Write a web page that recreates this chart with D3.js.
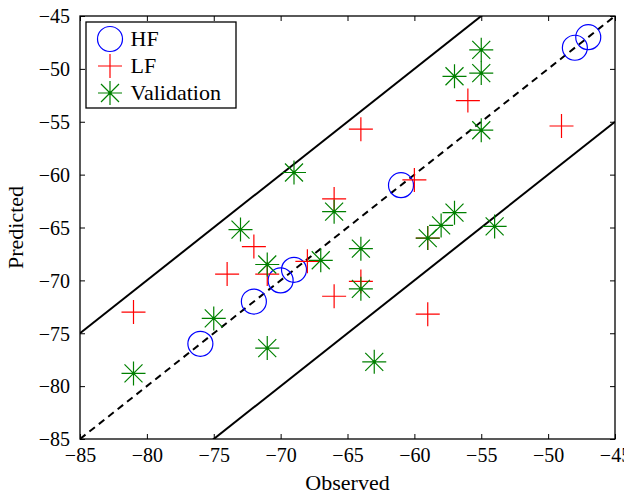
<!DOCTYPE html>
<html>
<head>
<meta charset="utf-8">
<script src="https://cdn.jsdelivr.net/npm/d3@7"></script>
<style>
  body { margin: 0; background: #fff; }
  svg, svg text { font-family: "Liberation Serif", "Times New Roman", serif; }
  svg { display: block; }
</style>
</head>
<body>
<div id="chart"></div>
<script>
// HF points (observed, predicted)
const hfObserved  = [-76, -72, -70, -69, -61, -48, -47];
const hfPredicted = [-76, -72, -70, -69, -61, -48, -47];

// LF points
const lfObserved  = [-81, -74, -72, -71, -68, -66, -66, -64, -64, -60, -56, -49, -59, -59];
const lfPredicted = [-73, -69.4, -66.8, -69.4, -68.2, -62.3, -71.5, -70.1, -55.7, -60.5, -53, -55.4, -73.2, -66];

// Validation points
const valObserved  = [-81, -75, -71, -73, -71, -69, -67, -66, -64, -64, -63, -59, -58, -57, -54, -55, -57, -55, -55];
const valPredicted = [-78.8, -73.6, -76.4, -65.2, -68.5, -59.8, -68.1, -63.5, -67, -70.8, -77.7, -66, -64.8, -63.6, -64.9, -55.8, -50.7, -50.4, -48.2];

const axisTicks = [-85, -80, -75, -70, -65, -60, -55, -50, -45];
const band = 10;

const width = 624, height = 493;
const margin = { top: 16, right: 9, bottom: 54, left: 80 };

const svg = d3.select('#chart').append('svg')
    .attr('width', width)
    .attr('height', height);

const x = d3.scaleLinear().domain([-85, -45]).range([margin.left, width - margin.right]);
const y = d3.scaleLinear().domain([-85, -45]).range([height - margin.bottom, margin.top]);

svg.append('clipPath').attr('id', 'clip')
    .append('rect')
    .attr('x', margin.left).attr('y', margin.top)
    .attr('width', width - margin.left - margin.right)
    .attr('height', height - margin.top - margin.bottom);

const plot = svg.append('g').attr('clip-path', 'url(#clip)');

// reference lines y = x, y = x +/- 10
const dom = x.domain();
const refLines = [
    { off: band, dash: null },
    { off: -band, dash: null },
    { off: 0, dash: '7,5' }
];
refLines.forEach(l => {
    plot.append('line')
        .attr('x1', x(dom[0])).attr('y1', y(dom[0] + l.off))
        .attr('x2', x(dom[1])).attr('y2', y(dom[1] + l.off))
        .attr('stroke', 'black')
        .attr('stroke-width', 2)
        .attr('stroke-dasharray', l.dash);
});

function drawPlus(g, cx, cy, s, color) {
    g.append('path')
        .attr('d', `M${cx - s},${cy}H${cx + s}M${cx},${cy - s}V${cy + s}`)
        .attr('stroke', color).attr('stroke-width', 1.2).attr('fill', 'none');
}

function drawStar(g, cx, cy, s, color) {
    const d = s * 0.75;
    g.append('path')
        .attr('d', `M${cx - s},${cy}H${cx + s}M${cx},${cy - s}V${cy + s}` +
            `M${cx - d},${cy - d}L${cx + d},${cy + d}M${cx - d},${cy + d}L${cx + d},${cy - d}`)
        .attr('stroke', color).attr('stroke-width', 1.2).attr('fill', 'none');
    g.append('circle').attr('cx', cx).attr('cy', cy).attr('r', 1.6).attr('fill', color);
}

const hf = d3.zip(hfObserved, hfPredicted);
const lf = d3.zip(lfObserved, lfPredicted);
const val = d3.zip(valObserved, valPredicted);

plot.selectAll('circle.hf')
    .data(hf)
    .enter()
    .append('circle')
    .attr('class', 'hf')
    .attr('cx', d => x(d[0]))
    .attr('cy', d => y(d[1]))
    .attr('r', 12.5)
    .attr('fill', 'none')
    .attr('stroke', 'blue')
    .attr('stroke-width', 1.2);

const lfG = plot.append('g');
lf.forEach(d => drawPlus(lfG, x(d[0]), y(d[1]), 12, 'red'));

const valG = plot.append('g');
val.forEach(d => drawStar(valG, x(d[0]), y(d[1]), 12, 'green'));

// axes with inward ticks on all four sides
const xAxis = svg.append('g')
    .attr('transform', `translate(0,${height - margin.bottom})`)
    .call(d3.axisBottom(x).tickValues(axisTicks).tickSizeInner(-5).tickSizeOuter(0));
xAxis.selectAll('text')
    .attr('y', 22.5).attr('dy', 0)
    .style('font-size', '20px').style('font-family', '"Liberation Serif", serif').attr('fill', 'black');

const yAxis = svg.append('g')
    .attr('transform', `translate(${margin.left},0)`)
    .call(d3.axisLeft(y).tickValues(axisTicks).tickSizeInner(-5).tickSizeOuter(0));
yAxis.selectAll('text')
    .attr('x', -10).attr('dy', '0.34em')
    .style('font-size', '20px').style('font-family', '"Liberation Serif", serif').attr('fill', 'black');

svg.append('g')
    .attr('transform', `translate(0,${margin.top})`)
    .call(d3.axisTop(x).tickValues(axisTicks).tickSizeInner(-5).tickSizeOuter(0).tickFormat(''));
svg.append('g')
    .attr('transform', `translate(${width - margin.right},0)`)
    .call(d3.axisRight(y).tickValues(axisTicks).tickSizeInner(-5).tickSizeOuter(0).tickFormat(''));

svg.selectAll('.domain').remove();
svg.selectAll('.tick line').attr('stroke', 'black');

svg.append('rect')
    .attr('x', margin.left).attr('y', margin.top)
    .attr('width', width - margin.left - margin.right)
    .attr('height', height - margin.top - margin.bottom)
    .attr('fill', 'none')
    .attr('stroke', 'black')
    .attr('stroke-width', 1.3);

// axis labels
svg.append('text')
    .attr('x', (margin.left + width - margin.right) / 2)
    .attr('y', 489.5)
    .attr('text-anchor', 'middle')
    .style('font-size', '22px')
    .text('Observed');

svg.append('text')
    .attr('transform', `translate(23,${(margin.top + height - margin.bottom) / 2}) rotate(-90)`)
    .attr('text-anchor', 'middle')
    .style('font-size', '22px')
    .text('Predicted');

// legend
const legend = svg.append('g');
legend.append('rect')
    .attr('x', 86).attr('y', 22)
    .attr('width', 150).attr('height', 86)
    .attr('fill', 'white')
    .attr('stroke', 'black')
    .attr('stroke-width', 1.3);

const legendRows = ['HF', 'LF', 'Validation'];
const legendY = [39, 66, 93];
legend.append('circle')
    .attr('cx', 110).attr('cy', legendY[0]).attr('r', 12.5)
    .attr('fill', 'none').attr('stroke', 'blue').attr('stroke-width', 1.2);
drawPlus(legend, 110, legendY[1], 12, 'red');
drawStar(legend, 110, legendY[2], 12, 'green');

legend.selectAll('text.lab')
    .data(legendRows)
    .enter()
    .append('text')
    .attr('class', 'lab')
    .attr('x', 130.5)
    .attr('y', (d, i) => legendY[i])
    .attr('dy', '0.34em')
    .style('font-size', '22px')
    .text(d => d);
</script>
</body>
</html>
